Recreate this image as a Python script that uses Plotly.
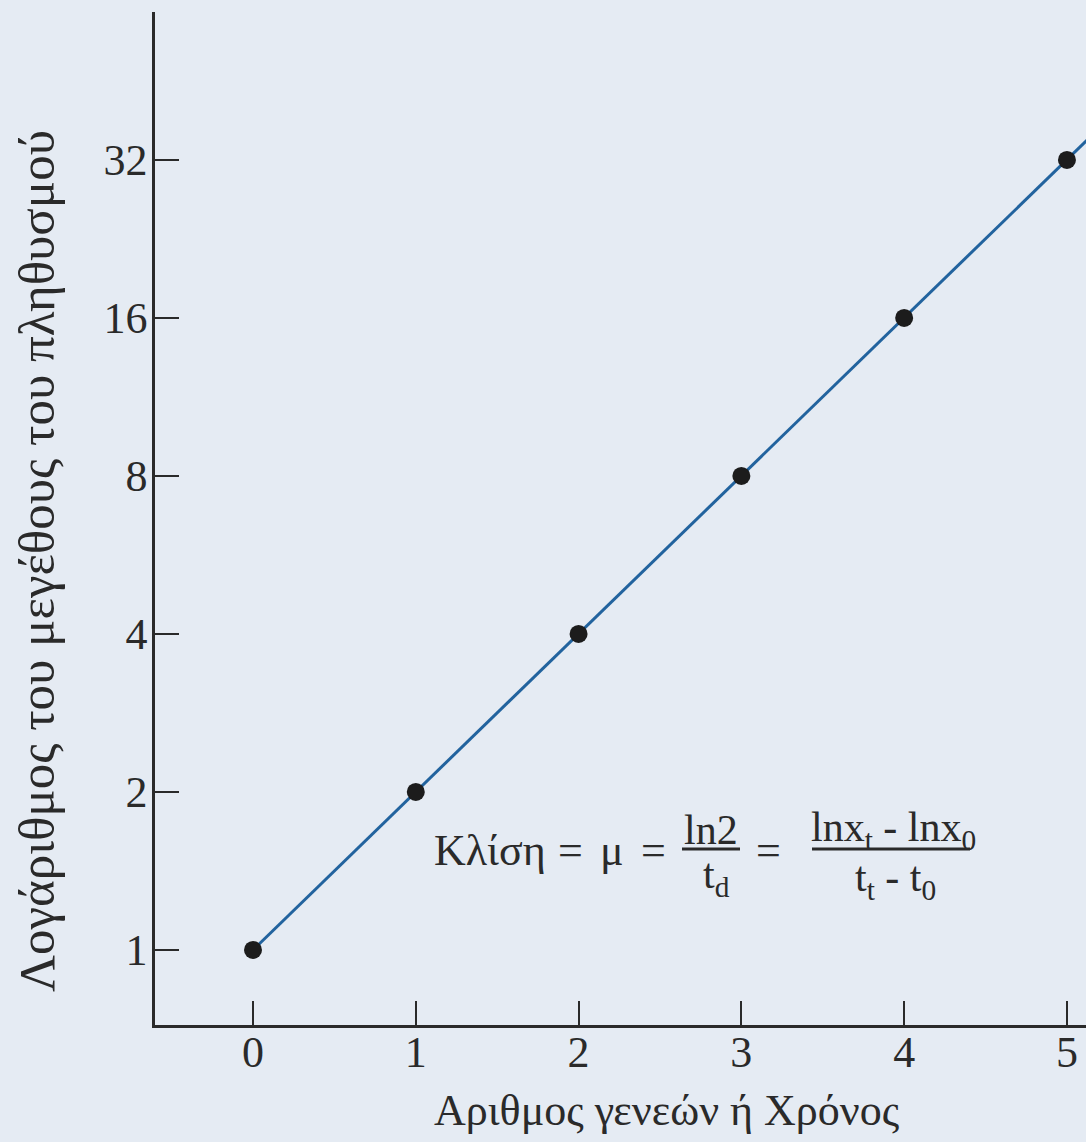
import plotly.graph_objects as go

# Generations and population size (doubling each generation)
generations = [0, 1, 2, 3, 4, 5]
population = [1, 2, 4, 8, 16, 32]

# Exponential-growth line drawn through the points (continues past the last one)
trend_x = [0, 5.2]
trend_y = [1, 36.8]

x_ticks = [0, 1, 2, 3, 4, 5]
y_ticks = [1, 2, 4, 8, 16, 32]
y_tick_text = ["1", "2", "4", "8", "16", "32"]

x_title = "Αριθμος γενεών ή Χρόνος"
y_title = "Λογάριθμος του μεγέθους του πληθυσμού"

W, H = 1086, 1142
L, R, T, B = 155, 0, 12, 117
BG = "#e5ebf3"
INK = "#2a2a2a"
SERIF = "Liberation Serif, Times New Roman, serif"


def px(xp):
    return (xp - L) / (W - L - R)


def py(yp):
    return (H - B - yp) / (H - B - T)


fig = go.Figure()

fig.add_trace(go.Scatter(
    x=trend_x, y=trend_y, mode="lines",
    line=dict(color="#22639e", width=3),
    hoverinfo="skip", showlegend=False,
))
fig.add_trace(go.Scatter(
    x=generations, y=population, mode="markers",
    marker=dict(color="#1c1c1c", size=18),
    showlegend=False,
))

fig.update_xaxes(
    range=[-0.602, 5.117],
    tickvals=x_ticks, ticktext=[str(v) for v in x_ticks],
    ticks="inside", ticklen=24, tickwidth=2, tickcolor=INK,
    showline=True, linewidth=2.5, linecolor=INK,
    showgrid=False, zeroline=False,
    tickfont=dict(family=SERIF, size=44, color=INK),
    ticklabelstandoff=-14,
)
fig.update_yaxes(
    type="log", range=[-0.143, 1.787],
    tickvals=y_ticks, ticktext=y_tick_text,
    ticks="inside", ticklen=24, tickwidth=2, tickcolor=INK,
    showline=True, linewidth=2.5, linecolor=INK,
    showgrid=False, zeroline=False,
    tickfont=dict(family=SERIF, size=44, color=INK),
    ticklabelstandoff=-4,
)

FS = 44
annotations = [
    # axis titles
    dict(text=x_title, x=px(666), y=py(1110), xanchor="center", yanchor="middle",
         font=dict(family=SERIF, size=44, color=INK)),
    dict(text=y_title, x=px(37), y=py(561), xanchor="center", yanchor="middle",
         textangle=-90, font=dict(family=SERIF, size=51, color=INK)),
    # slope formula
    dict(text="Κλίση", x=px(432), y=py(850), xanchor="left", yanchor="middle",
         font=dict(family=SERIF, size=FS, color=INK)),
    dict(text="=", x=px(570), y=py(850), xanchor="center", yanchor="middle",
         font=dict(family=SERIF, size=FS, color=INK)),
    dict(text="μ", x=px(612), y=py(850), xanchor="center", yanchor="middle",
         font=dict(family=SERIF, size=FS, color=INK)),
    dict(text="=", x=px(653), y=py(850), xanchor="center", yanchor="middle",
         font=dict(family=SERIF, size=FS, color=INK)),
    dict(text="ln2", x=px(711), y=py(830), xanchor="center", yanchor="middle",
         font=dict(family=SERIF, size=42, color=INK)),
    dict(text="t<sub>d</sub>", x=px(716), y=py(877), xanchor="center", yanchor="middle",
         font=dict(family=SERIF, size=42, color=INK)),
    dict(text="=", x=px(768), y=py(850), xanchor="center", yanchor="middle",
         font=dict(family=SERIF, size=FS, color=INK)),
    dict(text="lnx<sub>t</sub> - lnx<sub>0</sub>", x=px(893), y=py(830),
         xanchor="center", yanchor="middle",
         font=dict(family=SERIF, size=42, color=INK)),
    dict(text="t<sub>t</sub> - t<sub>0</sub>", x=px(895), y=py(880),
         xanchor="center", yanchor="middle",
         font=dict(family=SERIF, size=42, color=INK)),
]
for a in annotations:
    a.update(xref="paper", yref="paper", showarrow=False)

shapes = [
    dict(type="line", xref="paper", yref="paper",
         x0=px(682), x1=px(740), y0=py(849), y1=py(849),
         line=dict(color=INK, width=3)),
    dict(type="line", xref="paper", yref="paper",
         x0=px(812), x1=px(970), y0=py(849), y1=py(849),
         line=dict(color=INK, width=3)),
]

fig.update_layout(
    width=W, height=H,
    margin=dict(l=L, r=R, t=T, b=B, pad=0),
    paper_bgcolor=BG, plot_bgcolor=BG,
    annotations=annotations, shapes=shapes,
    showlegend=False,
)

fig.write_html("out.html")
